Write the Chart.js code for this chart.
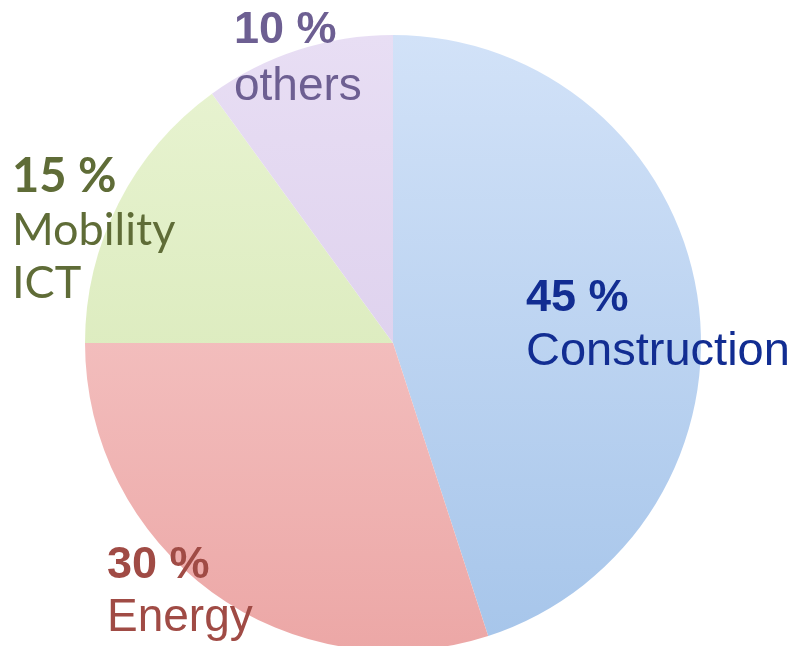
<!DOCTYPE html>
<html>
<head>
<meta charset="utf-8">
<script src="https://cdn.jsdelivr.net/npm/chart.js@4.4.0/dist/chart.umd.min.js"></script>
<style>
  html, body { margin: 0; padding: 0; background: #fff; overflow: hidden; }
  #wrap { width: 793px; height: 660px; }
</style>
</head>
<body>
<div id="wrap"><canvas id="myChart" width="793" height="660"></canvas></div>
<script>
// data
var sectors = ['Construction', 'Energy', 'Mobility ICT', 'others'];
var shares = [45, 30, 15, 10];
var pctText = ['45 %', '30 %', '15 %', '10 %'];
var nameText = [['Construction'], ['Energy'], ['Mobility', 'ICT'], ['others']];

// colours: top / bottom of each slice gradient, text colour
var topCol = ['#d2e2f8', '#f9d3d3', '#e9f4d3', '#e8def4'];
var botCol = ['#a6c5ea', '#eca7a6', '#d2e5ae', '#d6c7e8'];
var txtCol = ['#122d92', '#a04b45', '#5f6c37', '#6d5f92'];
// label anchor (left x, baseline of first line), line gap, font sizes
var labelPos = [[526, 311, 54], [107, 578, 53], [12, 192, 53], [234, 43, 57]];
var labelSize = [[45, 47], [45, 46], [47, 45], [45, 46]];
var labelFont = ['"Liberation Sans", Arial', '"Liberation Sans", Arial', 'Lato, "Open Sans"', '"Liberation Sans", Arial'];

var labelPlugin = {
  id: 'labels',
  afterDraw: function(chart) {
    var ctx = chart.ctx;
    ctx.save();
    ctx.textBaseline = 'alphabetic';
    ctx.textAlign = 'left';
    for (var i = 0; i < pctText.length; i++) {
      var x = labelPos[i][0], y = labelPos[i][1], gap = labelPos[i][2];
      ctx.fillStyle = txtCol[i];
      ctx.font = 'bold ' + labelSize[i][0] + 'px ' + labelFont[i];
      ctx.fillText(pctText[i], x, y);
      ctx.font = labelSize[i][1] + 'px ' + labelFont[i];
      for (var l = 0; l < nameText[i].length; l++) {
        ctx.fillText(nameText[i][l], x, y + gap * (l + 1));
      }
    }
    ctx.restore();
  }
};

function sliceColor(c) {
  var area = c.chart.chartArea;
  if (!area) return topCol[c.dataIndex];
  var g = c.chart.ctx.createLinearGradient(0, area.top, 0, area.bottom);
  g.addColorStop(0, topCol[c.dataIndex]);
  g.addColorStop(1, botCol[c.dataIndex]);
  return g;
}

window.Pie = new Chart(document.getElementById('myChart').getContext('2d'), {
  type: 'pie',
  data: {
    labels: sectors,
    datasets: [{
      data: shares,
      backgroundColor: sliceColor,
      borderWidth: 0
    }]
  },
  options: {
    responsive: false,
    animation: false,
    layout: { padding: { left: 85, right: 92, top: 35, bottom: 9 } },
    plugins: {
      legend: { display: false },
      tooltip: { enabled: false }
    }
  },
  plugins: [labelPlugin]
});
</script>
</body>
</html>
